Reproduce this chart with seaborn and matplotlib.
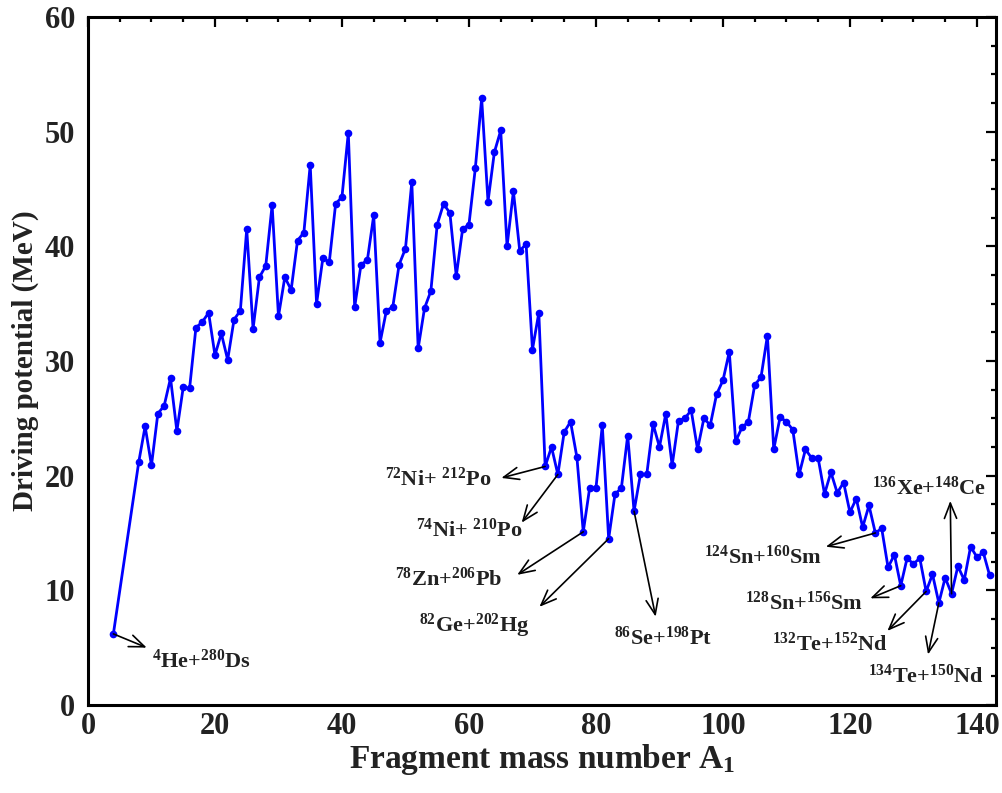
import matplotlib
matplotlib.use("Agg")
import matplotlib.pyplot as plt
from matplotlib.ticker import MultipleLocator
import seaborn as sns
import pandas as pd

# ---- data ----
A1 = [4, 8, 9, 10, 11, 12, 13, 14, 15, 16, 17, 18, 19, 20, 21, 22, 23, 24, 25, 26,
      27, 28, 29, 30, 31, 32, 33, 34, 35, 36, 37, 38, 39, 40, 41, 42, 43, 44, 45, 46,
      47, 48, 49, 50, 51, 52, 53, 54, 55, 56, 57, 58, 59, 60, 61, 62, 63, 64, 65, 66,
      67, 68, 69, 70, 71, 72, 73, 74, 75, 76, 77, 78, 79, 80, 81, 82, 83, 84, 85, 86,
      87, 88, 89, 90, 91, 92, 93, 94, 95, 96, 97, 98, 99, 100, 101, 102, 103, 104, 105, 106,
      107, 108, 109, 110, 111, 112, 113, 114, 115, 116, 117, 118, 119, 120, 121, 122, 123, 124, 125, 126,
      127, 128, 129, 130, 131, 132, 133, 134, 135, 136, 137, 138, 139, 140, 141, 142]
potential = [6.2, 21.2, 24.3, 20.9, 25.4, 26.1, 28.5, 23.9, 27.7, 27.6, 32.9, 33.4, 34.2, 30.5, 32.4, 30.1, 33.6, 34.4, 41.5, 32.8,
             37.3, 38.3, 43.6, 33.9, 37.3, 36.2, 40.5, 41.2, 47.1, 35.0, 39.0, 38.6, 43.7, 44.3, 49.9, 34.7, 38.4, 38.8, 42.7, 31.6,
             34.4, 34.7, 38.4, 39.8, 45.6, 31.1, 34.6, 36.1, 41.9, 43.7, 42.9, 37.4, 41.5, 41.9, 46.8, 52.9, 43.9, 48.2, 50.1, 40.0,
             44.8, 39.6, 40.2, 31.0, 34.2, 20.8, 22.5, 20.1, 23.8, 24.7, 21.6, 15.1, 18.9, 18.9, 24.4, 14.5, 18.4, 18.9, 23.5, 16.9,
             20.1, 20.1, 24.5, 22.5, 25.4, 20.9, 24.8, 25.0, 25.7, 22.3, 25.0, 24.4, 27.1, 28.3, 30.8, 23.0, 24.2, 24.7, 27.9, 28.6,
             32.2, 22.3, 25.1, 24.7, 24.0, 20.1, 22.3, 21.5, 21.5, 18.4, 20.3, 18.5, 19.4, 16.8, 18.0, 15.5, 17.4, 15.0, 15.4, 12.0,
             13.1, 10.4, 12.8, 12.3, 12.8, 9.9, 11.4, 8.9, 11.1, 9.7, 12.1, 10.9, 13.8, 12.9, 13.3, 11.3]

x_ticks = [0, 20, 40, 60, 80, 100, 120, 140]
y_ticks = [0, 10, 20, 30, 40, 50, 60]

# annotated channels: (fragment A1, label)
ann_A = [4, 72, 74, 78, 82, 86, 124, 128, 132, 134, 136]
ann_labels = ['$^{4}$He+$^{280}$Ds', '$^{72}$Ni+ $^{212}$Po', '$^{74}$Ni+ $^{210}$Po',
              '$^{78}$Zn+$^{206}$Pb', '$^{82}$Ge+$^{202}$Hg', '$^{86}$Se+$^{198}$Pt',
              '$^{124}$Sn+$^{160}$Sm', '$^{128}$Sn+$^{156}$Sm', '$^{132}$Te+$^{152}$Nd',
              '$^{134}$Te+$^{150}$Nd', '$^{136}$Xe+$^{148}$Ce']
# layout: arrow head position, text anchor position, alignment
ann_head = [(9.25, 5.0), (65.1, 19.8), (68.3, 15.9), (67.6, 11.35), (71.1, 8.56), (89.4, 7.7),
            (116.2, 13.8), (123.2, 9.3), (125.9, 6.46), (132.3, 4.4), (135.8, 17.8)]
ann_text = [(10.1, 3.8), (63.6, 19.7), (68.5, 15.2), (65.3, 11.0), (69.6, 6.9), (90.5, 5.85),
            (115.6, 12.9), (122.0, 8.9), (126.0, 5.3), (131.9, 2.5), (132.4, 18.9)]
ann_ha = ['left', 'right', 'right', 'right', 'right', 'center',
          'right', 'right', 'right', 'center', 'center']

df = pd.DataFrame({'A1': A1, 'V': potential})

# ---- style ----
sns.set_style('white')
plt.rcParams['font.family'] = ['Liberation Serif', 'DejaVu Serif']
plt.rcParams['font.weight'] = 'bold'
plt.rcParams['mathtext.fontset'] = 'custom'
plt.rcParams['mathtext.rm'] = 'Liberation Serif:bold'
plt.rcParams['mathtext.it'] = 'Liberation Serif:bold'
plt.rcParams['mathtext.bf'] = 'Liberation Serif:bold'

fig = plt.figure(figsize=(10.02, 7.93), dpi=100)
ax = fig.add_axes([0.0878, 0.111, 0.9062, 0.8676])

sns.lineplot(data=df, x='A1', y='V', ax=ax, color='#0000FF', linewidth=2.0,
             marker='o', markersize=5.5, markeredgewidth=0, markeredgecolor='#0000FF')

ax.set_xlim(0, 143)
ax.set_ylim(0, 60)
ax.set_xticks(x_ticks)
ax.set_yticks(y_ticks)
ax.xaxis.set_minor_locator(MultipleLocator(5))
ax.yaxis.set_minor_locator(MultipleLocator(2.5))
ax.tick_params(which='both', direction='in', top=True, right=True, width=1.6,
               colors='black', labelcolor='#222222')
ax.tick_params(which='major', length=7, labelsize=22)
ax.tick_params(axis='x', which='major', pad=5)
ax.tick_params(axis='y', which='major', pad=9)
ax.tick_params(which='minor', length=3.5)
for lab in ax.get_xticklabels() + ax.get_yticklabels():
    lab.set_fontweight('bold')
for sp in ax.spines.values():
    sp.set_linewidth(2.2)
    sp.set_color('black')

ax.set_xlabel('Fragment mass number A$_1$', fontsize=24, fontweight='bold', color='#222222', labelpad=1)
ax.set_ylabel('Driving potential (MeV)', fontsize=21, fontweight='bold', color='#222222', labelpad=4)

Vmap = dict(zip(A1, potential))
for a, lab, hd, tp, ha in zip(ann_A, ann_labels, ann_head, ann_text, ann_ha):
    ax.annotate('', xy=hd, xytext=(a, Vmap[a]),
                arrowprops=dict(arrowstyle='->,head_length=0.55,head_width=0.22',
                                color='black', lw=1.2, mutation_scale=20,
                                shrinkA=0, shrinkB=0))
    ax.text(tp[0], tp[1], lab, ha=ha, va='center', fontsize=16, fontweight='bold', color='#222222')

fig.savefig('out.png', dpi=100)
